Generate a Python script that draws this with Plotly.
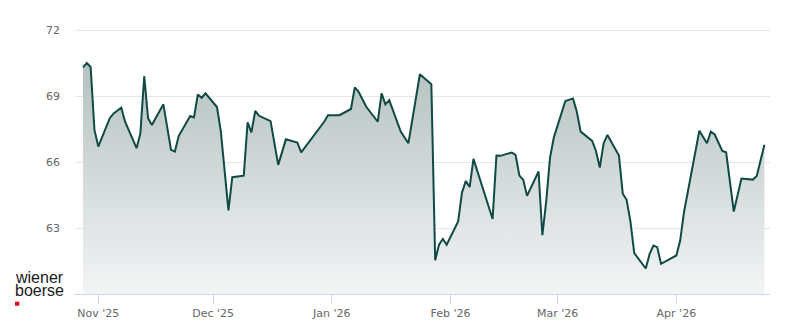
import plotly.graph_objects as go

dates = [
    "2025-10-28", "2025-10-29", "2025-10-30", "2025-10-31", "2025-11-01", "2025-11-02",
    "2025-11-04", "2025-11-05", "2025-11-07", "2025-11-08", "2025-11-11", "2025-11-12",
    "2025-11-13", "2025-11-14", "2025-11-15", "2025-11-18", "2025-11-20", "2025-11-21",
    "2025-11-22", "2025-11-25", "2025-11-26", "2025-11-27", "2025-11-28", "2025-11-29",
    "2025-12-02", "2025-12-03", "2025-12-05", "2025-12-06", "2025-12-09", "2025-12-10",
    "2025-12-11", "2025-12-12", "2025-12-13", "2025-12-16", "2025-12-18", "2025-12-20",
    "2025-12-23", "2025-12-24", "2025-12-30", "2025-12-31", "2026-01-03", "2026-01-06",
    "2026-01-07", "2026-01-08", "2026-01-10", "2026-01-13", "2026-01-14", "2026-01-15",
    "2026-01-16", "2026-01-19", "2026-01-21", "2026-01-24", "2026-01-27", "2026-01-28",
    "2026-01-29", "2026-01-30", "2026-01-31", "2026-02-03", "2026-02-04", "2026-02-05",
    "2026-02-06", "2026-02-07", "2026-02-12", "2026-02-13", "2026-02-14", "2026-02-17",
    "2026-02-18", "2026-02-19", "2026-02-20", "2026-02-21", "2026-02-24", "2026-02-25",
    "2026-02-26", "2026-02-27", "2026-02-28", "2026-03-03", "2026-03-05", "2026-03-06",
    "2026-03-07", "2026-03-10", "2026-03-11", "2026-03-12", "2026-03-13", "2026-03-14",
    "2026-03-17", "2026-03-18", "2026-03-19", "2026-03-20", "2026-03-21", "2026-03-24",
    "2026-03-25", "2026-03-26", "2026-03-27", "2026-03-28", "2026-04-01", "2026-04-02",
    "2026-04-03", "2026-04-07", "2026-04-09", "2026-04-10", "2026-04-11", "2026-04-13",
    "2026-04-14", "2026-04-16", "2026-04-18", "2026-04-21", "2026-04-22", "2026-04-24",
]

prices = [
    70.30, 70.50, 70.32, 67.46, 66.70, 67.15,
    67.99, 68.21, 68.47, 67.83, 66.63, 67.31,
    69.90, 67.99, 67.68, 68.62, 66.55, 66.47,
    67.18, 68.09, 68.03, 69.07, 68.92, 69.12,
    68.50, 67.40, 63.80, 65.31, 65.38, 67.80,
    67.35, 68.32, 68.10, 67.86, 65.87, 67.03,
    66.88, 66.44, 67.83, 68.13, 68.13, 68.41,
    69.39, 69.19, 68.51, 67.83, 69.12, 68.62,
    68.81, 67.38, 66.85, 69.99, 69.54, 61.53,
    62.24, 62.50, 62.24, 63.30, 64.61, 65.14,
    64.86, 66.14, 63.41, 66.29, 66.28, 66.43,
    66.32, 65.38, 65.19, 64.46, 65.57, 62.67,
    64.21, 66.20, 67.12, 68.77, 68.89, 68.28,
    67.38, 66.96, 66.50, 65.75, 66.85, 67.23,
    66.29, 64.56, 64.28, 63.30, 61.86, 61.16,
    61.81, 62.20, 62.13, 61.37, 61.75, 62.43,
    63.73, 67.42, 66.85, 67.38, 67.25, 66.50,
    66.44, 63.75, 65.25, 65.20, 65.36, 66.78,
]

tick_dates = ["2025-11-01", "2025-12-01", "2026-01-01", "2026-02-01", "2026-03-01", "2026-04-01"]
tick_labels = ["Nov '25", "Dec '25", "Jan '26", "Feb '26", "Mar '26", "Apr '26"]
y_ticks = [63, 66, 69, 72]

fig = go.Figure()
fig.add_trace(go.Scatter(
    x=dates, y=prices, mode="lines",
    line=dict(color="#0f4a44", width=2),
    fill="tozeroy",
    fillgradient=dict(type="vertical", start=60, stop=70.5,
                      colorscale=[[0, "rgb(243,244,245)"], [1, "rgb(180,193,192)"]]),
    hoverinfo="skip",
))

# plot area: x 75..770 px, y 8..294 px
def px_x(px):
    return (px - 75) / 695.0

def px_y(py):
    return (294 - py) / 286.0

fig.add_annotation(text="wiener", xref="paper", yref="paper", x=px_x(13), y=px_y(277),
                   xanchor="left", yanchor="middle", showarrow=False,
                   font=dict(family="Liberation Sans, Arial", size=16, color="#1a1a1a"))
fig.add_annotation(text="boerse", xref="paper", yref="paper", x=px_x(13), y=px_y(290),
                   xanchor="left", yanchor="middle", showarrow=False,
                   font=dict(family="Liberation Sans, Arial", size=16, color="#1a1a1a"))
fig.add_shape(type="rect", xref="paper", yref="paper",
              x0=px_x(15), x1=px_x(19.3), y0=px_y(305.7), y1=px_y(301.7),
              fillcolor="#e2001a", line=dict(width=0))

fig.update_layout(
    width=800, height=324,
    margin=dict(l=75, r=30, t=8, b=30, autoexpand=False),
    paper_bgcolor="white", plot_bgcolor="white",
    showlegend=False,
    font=dict(family="DejaVu Sans", size=11, color="#666666"),
    xaxis=dict(
        type="date", automargin=False,
        range=["2025-10-25 22:00", "2026-04-25 11:00"],
        tickvals=tick_dates, ticktext=tick_labels,
        showgrid=False, showline=True, linecolor="#ccd6eb", linewidth=1,
        ticks="outside", ticklen=9, tickcolor="#ccd6eb", tickwidth=1,
        tickfont=dict(family="DejaVu Sans", size=11, color="#666666"),
        zeroline=False, fixedrange=True,
    ),
    yaxis=dict(
        range=[60, 73], automargin=False,
        tickvals=y_ticks, ticktext=[str(v) for v in y_ticks],
        showgrid=True, gridcolor="#e6e6e6", gridwidth=1,
        showline=False, zeroline=False, ticks="",
        ticklabelstandoff=14,
        tickfont=dict(family="DejaVu Sans", size=11, color="#666666"),
        fixedrange=True,
    ),
)

fig.write_html("out.html")
